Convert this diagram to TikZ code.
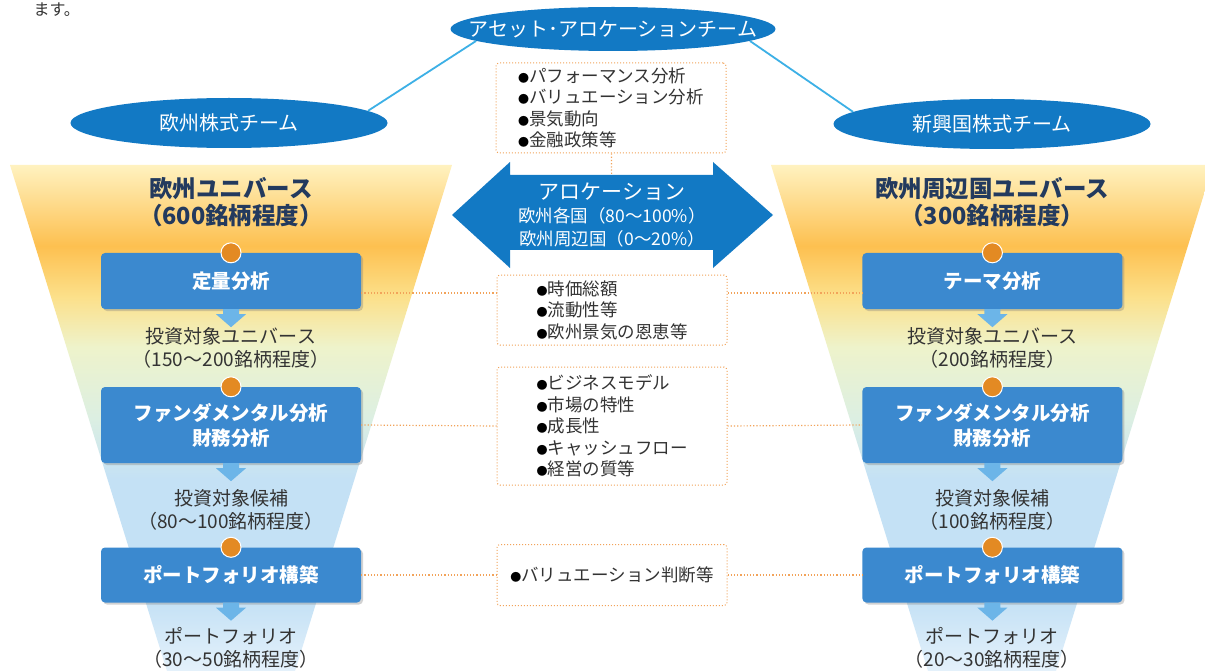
\documentclass[tikz,border=0pt]{standalone}
\usepackage{fontspec}
\setmainfont{Noto Sans CJK JP}
\usetikzlibrary{positioning, shapes.geometric, shadows}

\definecolor{teamblue}{HTML}{1279C4}
\definecolor{boxblue}{HTML}{3B89CF}
\definecolor{linkblue}{HTML}{3DB0E6}
\definecolor{dotorange}{HTML}{E38A23}
\definecolor{guideorange}{HTML}{F2A35A}
\definecolor{flowblue}{HTML}{6CB5E8}
\definecolor{headnavy}{HTML}{233A5E}
\definecolor{labelgray}{HTML}{333333}
\definecolor{fyellow}{HTML}{FFF2C0}
\definecolor{forange}{HTML}{FDC050}
\definecolor{fcream}{HTML}{FCE08A}
\definecolor{fgreen}{HTML}{EEF3CB}
\definecolor{fmint}{HTML}{DCEFE2}
\definecolor{fblue}{HTML}{C4E1F5}
\definecolor{fpale}{HTML}{E4F1FB}

\pgfdeclareverticalshading{funnel}{100bp}{color(0bp)=(fpale); color(25bp)=(fpale); color(32bp)=(fblue); color(44bp)=(fblue); color(50bp)=(fmint); color(57bp)=(fgreen); color(62bp)=(fcream); color(67bp)=(forange); color(75bp)=(fyellow); color(100bp)=(fyellow)}

\newcommand{\critdot}{{\color{black}\fontsize{11}{11}\selectfont ●}}

\begin{document}
\begin{tikzpicture}[x=1pt, y=-1pt, node distance=20pt]
	% ノードのスタイル
	\tikzstyle{team} = [ellipse, fill=teamblue, text=white, inner xsep=-40pt, inner ysep=0pt, font=\fontsize{20}{22}\selectfont]
	\tikzstyle{stage} = [rectangle, rounded corners=4pt, fill=boxblue, text=white, minimum width=260pt, align=center, font=\bfseries\fontsize{19.5}{25}\selectfont, drop shadow={shadow xshift=2pt, shadow yshift=-2pt, opacity=0.35, fill=gray}]
	\tikzstyle{crit} = [rectangle, rounded corners=3pt, draw=guideorange, dotted, line width=1pt, fill=white, minimum width=230pt, align=left, text=labelgray, font=\fontsize{17.5}{21.5}\selectfont]
	\tikzstyle{head} = [align=center, text=headnavy, font=\bfseries\fontsize{23.5}{27}\selectfont]
	\tikzstyle{count} = [align=center, text=labelgray, font=\fontsize{19}{23}\selectfont]
	\tikzstyle{link} = [linkblue, line width=1.8pt]
	\tikzstyle{guide} = [guideorange, dotted, line width=1.2pt]
	\tikzstyle{dot} = [fill=dotorange, draw=white, line width=1pt]
	\tikzstyle{flow} = [fill=flowblue]

	\fill[white] (0,0) rectangle (1205,671);
	\useasboundingbox (0,0) rectangle (1205,671);

	% ファネル
	\shade[shading=funnel] (10,165) -- (452,165) -- (295,671) -- (167,671) -- cycle;
	\shade[shading=funnel] (771,165) -- (1213,165) -- (1056,671) -- (928,671) -- cycle;

	\node[anchor=base west, text=labelgray, font=\fontsize{16}{18}\selectfont] (masu) at (30,16) {ます。};

	% チーム
	\node[team, minimum width=325pt, minimum height=44pt] (asset) at (613,29) {アセット･アロケーションチーム};
	\node[team, minimum width=317pt, minimum height=50pt] (euro) at (229,123) {欧州株式チーム};
	\node[team, minimum width=317pt, minimum height=50pt] (emerg) at (992,124) {新興国株式チーム};
	\draw[link] (asset.185) -- (euro.5);
	\draw[link] (asset.355) -- (emerg.175);

	% 欧州ユニバース
	\node[head] (uniL) at (231,202) {欧州ユニバース\\（600銘柄程度）};
	\node[stage, minimum height=56pt] (quantL) at (231,281) {定量分析};
	\node[count] (univL) at (231,348) {投資対象ユニバース\\（150～200銘柄程度）};
	\node[stage, minimum height=76pt] (fundL) at (231,425) {ファンダメンタル分析\\財務分析};
	\node[count] (candL) at (231,510) {投資対象候補\\（80～100銘柄程度）};
	\node[stage, minimum height=55pt] (portL) at (231,575) {ポートフォリオ構築};
	\node[count] (pfL) at (231,648) {ポートフォリオ\\（30～50銘柄程度）};

	% 欧州周辺国ユニバース
	\node[stage, minimum height=56pt, right=501pt of quantL] (themeR) {テーマ分析};
	\node[stage, minimum height=76pt, right=501pt of fundL] (fundR) {ファンダメンタル分析\\財務分析};
	\node[stage, minimum height=55pt, right=501pt of portL] (portR) {ポートフォリオ構築};
	\node[head] (uniR) at (themeR |- uniL) {欧州周辺国ユニバース\\（300銘柄程度）};
	\node[count] (univR) at (themeR |- univL) {投資対象ユニバース\\（200銘柄程度）};
	\node[count] (candR) at (themeR |- candL) {投資対象候補\\（100銘柄程度）};
	\node[count] (pfR) at (themeR |- pfL) {ポートフォリオ\\（20～30銘柄程度）};

	\foreach \s in {quantL, fundL, portL, themeR, fundR, portR} {
		\fill[flow] ([xshift=-8pt]\s.south) -- ++(16,0) -- ++(0,5) -- ++(7,0) -- ++(-15,13) -- ++(-15,-13) -- ++(7,0) -- cycle;
		\filldraw[dot] (\s.north) circle (10pt);
	}

	% 中央の項目
	\node[crit, minimum height=90pt] (critA) at (611,108) {\critdot パフォーマンス分析\\\critdot バリュエーション分析\\\critdot 景気動向\\\critdot 金融政策等};
	\node[crit, minimum height=70pt] (critB) at (612,310) {\critdot 時価総額\\\critdot 流動性等\\\critdot 欧州景気の恩恵等};
	\node[crit, minimum height=118pt] (critC) at (612,426) {\critdot ビジネスモデル\\\critdot 市場の特性\\\critdot 成長性\\\critdot キャッシュフロー\\\critdot 経営の質等};
	\node[crit, minimum height=61pt] (critD) at (612,575) {\critdot バリュエーション判断等};

	% アロケーション
	\coordinate (allocC) at (612,215);
	\draw[guide] (critA) -- (allocC);
	\fill[teamblue] (452,215) -- (510,162) -- (510,175) -- (713,175) -- (713,162) -- (773,215) -- (713,268) -- (713,250) -- (510,250) -- (510,268) -- cycle;
	\node[align=center, text=white, font=\fontsize{17.5}{23}\selectfont] (alloc) at (allocC) {{\fontsize{21}{23}\selectfont アロケーション}\\欧州各国（80～100\%）\\欧州周辺国（0～20\%）};

	% 点線
	\draw[guide] ([yshift=-12pt]quantL.east) -- ([yshift=-12pt]quantL.east -| critB.west);
	\draw[guide] ([yshift=-12pt]themeR.west -| critB.east) -- ([yshift=-12pt]themeR.west);
	\draw[guide] (fundL.east) -- (critC.west);
	\draw[guide] (critC.east) -- (fundR.west);
	\draw[guide] (portL.east) -- (critD.west);
	\draw[guide] (critD.east) -- (portR.west);
\end{tikzpicture}
\end{document}
